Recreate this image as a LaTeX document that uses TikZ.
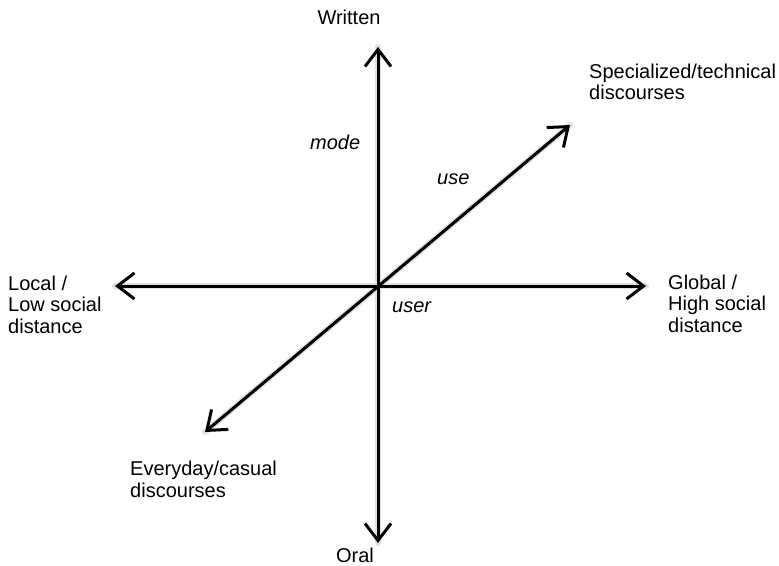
\documentclass[tikz,border=0pt]{standalone}
\usepackage{fontspec}
\setmainfont{Liberation Sans}
\usetikzlibrary{arrows.meta}
\tikzset{
  axis/.style   ={line width=3bp,
                  {Straight Barb[length=17bp,width=26bp]}-{Straight Barb[length=17bp,width=26bp]}},
  shade/.style  ={line width=6bp,black!12,line cap=round},
  lbl/.style    ={align=left,inner sep=0pt,font=\fontsize{20bp}{21.5bp}\selectfont},
  dimlbl/.style ={lbl,font=\fontsize{20bp}{21.5bp}\selectfont\itshape},
}
\begin{document}
\begin{tikzpicture}[x=1bp,y=-1bp]
\useasboundingbox (0,0) rectangle (779,566);

% axis end points
\coordinate (o)   at (378,286);
\coordinate (top) at (378,47);
\coordinate (bot) at (378,543);
\coordinate (lft) at (115,286);
\coordinate (rgt) at (646,286);
\coordinate (ne)  at (570,125);
\coordinate (sw)  at (205,432);

% soft shadow
\begin{scope}[shift={(3,3)}]
  \draw[shade] (bot) -- (top);
  \draw[shade] (lft) -- (rgt);
  \draw[shade] (sw) -- (ne);
\end{scope}

% axes
\draw[axis] (bot) -- (top);
\draw[axis] (lft) -- (rgt);
\draw[axis] (sw) -- (ne);

% end labels (base = last line)
\node[lbl,anchor=base] (written) at (349,25) {Written};
\node[lbl,anchor=base] (oral) at (355,562) {Oral};
\node[lbl,anchor=base west] (local) at (8,333) {Local /\\Low social\\distance};
\node[lbl,anchor=base west] (global) at (668,332) {Global /\\High social\\distance};
\node[lbl,anchor=base west] (special) at (589,100) {Specialized/technical\\discourses};
\node[lbl,anchor=base west] (everyday) at (130,497) {Everyday/casual\\discourses};

% dimension labels
\node[dimlbl,anchor=base west] (mode) at (310,150) {mode};
\node[dimlbl,anchor=base west] (use) at (437,185) {use};
\node[dimlbl,anchor=base west] (user) at (392,312) {user};

\end{tikzpicture}
\end{document}
